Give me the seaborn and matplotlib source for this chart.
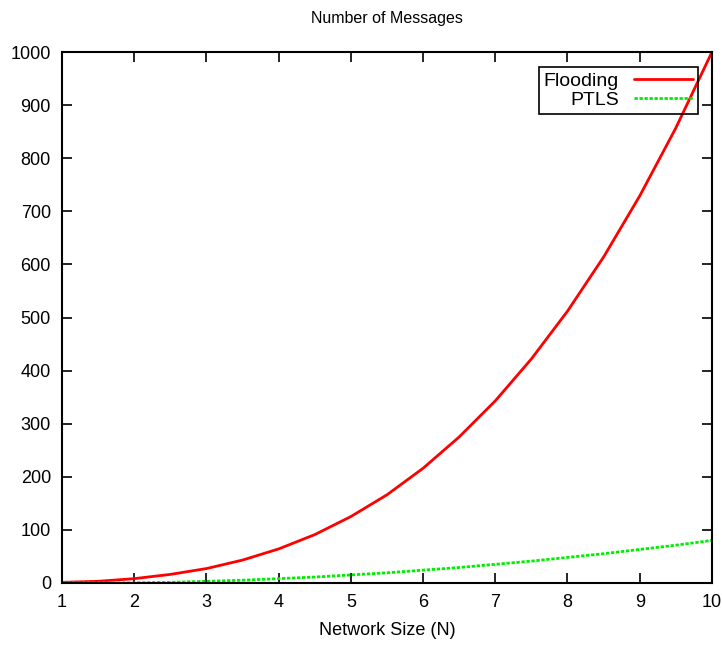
import numpy as np
import pandas as pd
import matplotlib.pyplot as plt
import seaborn as sns

# values
network_size = [1, 1.5, 2, 2.5, 3, 3.5, 4, 4.5, 5, 5.5, 6, 6.5, 7, 7.5, 8, 8.5, 9, 9.5, 10]
flooding = [1, 3, 8, 16, 27, 43, 64, 91, 125, 166, 216, 275, 343, 422, 512, 614, 729, 857, 1000]
ptls = [0, 0, 0, 1, 3, 5, 8, 11, 15, 19, 24, 29, 35, 41, 48, 55, 63, 71, 80]

x_ticks = [1, 2, 3, 4, 5, 6, 7, 8, 9, 10]
y_ticks = [0, 100, 200, 300, 400, 500, 600, 700, 800, 900, 1000]

df = pd.DataFrame({"N": network_size * 2,
                   "msgs": flooding + ptls,
                   "method": ["Flooding"] * len(flooding) + ["PTLS"] * len(ptls)})

sns.set_style("ticks")
plt.rcParams['font.family'] = ['Liberation Sans Narrow', 'Liberation Sans', 'DejaVu Sans']
plt.rcParams['text.color'] = 'black'
plt.rcParams['axes.labelcolor'] = 'black'
plt.rcParams['xtick.color'] = 'black'
plt.rcParams['ytick.color'] = 'black'

fig = plt.figure(figsize=(7.22, 6.52), dpi=100)
ax = fig.add_axes([0.086, 0.106, 0.9, 0.814])

sns.lineplot(data=df, x="N", y="msgs", hue="method", style="method",
             palette={"Flooding": "#ff0000", "PTLS": "#00ee00"},
             dashes={"Flooding": "", "PTLS": (1.2, 0.6)},
             linewidth=2, ax=ax)

ax.set_xlim(1, 10)
ax.set_ylim(0, 1000)
ax.set_xticks(x_ticks)
ax.set_yticks(y_ticks)
ax.tick_params(direction="in", length=7, width=1.2, top=True, right=True,
               labelsize=13, pad=8)
for s in ax.spines.values():
    s.set_linewidth(1.5)
    s.set_color("black")

ax.set_xlabel("Network Size (N)", fontsize=13, labelpad=8)
ax.set_ylabel("")
ax.set_title("Number of Messages", fontsize=11.5, pad=21)

# gnuplot-style key: frame only, curves show through
leg = ax.legend(loc="upper right", markerfirst=False, fancybox=False,
                edgecolor="black", facecolor="none", framealpha=1, fontsize=14,
                handlelength=3.0, borderpad=0.25, labelspacing=0.1,
                bbox_to_anchor=(0.993, 0.99))
leg.get_frame().set_linewidth(1.2)
for t in leg.get_texts():
    t.set_ha("right")

fig.savefig("out.png", dpi=100)
